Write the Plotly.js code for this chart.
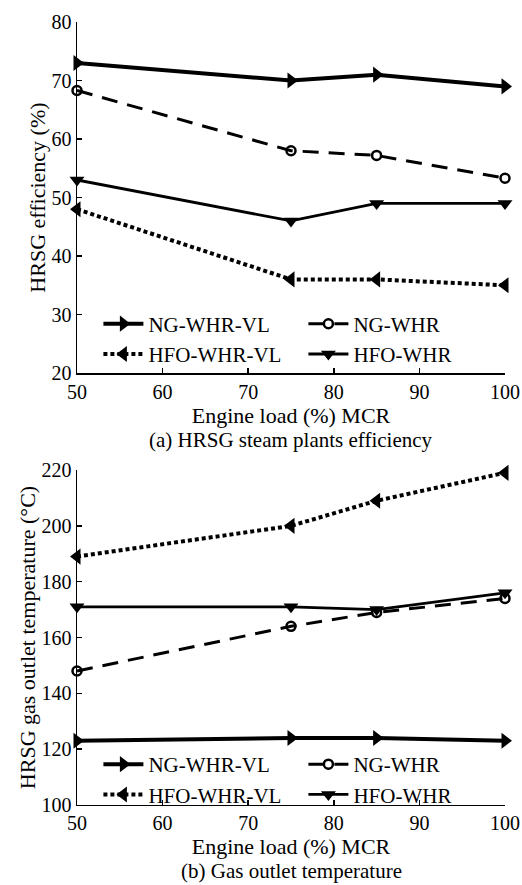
<!DOCTYPE html>
<html><head><meta charset="utf-8">
<script src="https://cdn.plot.ly/plotly-3.0.1.min.js"></script>
<style>html,body{margin:0;padding:0;background:#fff}</style>
</head><body><div id="c" style="width:522px;height:885px"></div>
<script>
const load = [50, 75, 85, 100];
const seriesNames = ["NG-WHR-VL", "NG-WHR", "HFO-WHR-VL", "HFO-WHR"];
// (a) HRSG efficiency (%)
const effNGWHRVL = [73, 70, 71, 69];
const effNGWHR = [68.3, 58, 57.2, 53.3];
const effHFOWHRVL = [48, 36, 36, 35];
const effHFOWHR = [53, 46, 49, 49];
// (b) gas outlet temperature (°C)
const tNGWHRVL = [123, 124, 124, 123];
const tNGWHR = [148, 164, 169, 174];
const tHFOWHRVL = [189, 200, 209, 219];
const tHFOWHR = [171, 171, 170, 176];

const FONT = "Liberation Serif, Times New Roman, serif";
const styles = {
  "NG-WHR-VL": {line:{color:"#000", width:4, dash:"solid"}, marker:{symbol:"triangle-right", size:14, color:"#000"}},
  "NG-WHR": {line:{color:"#000", width:3, dash:"16px,10px"}, marker:{symbol:"circle-open", size:9, color:"#000", line:{width:2.5, color:"#000"}}},
  "HFO-WHR-VL": {line:{color:"#000", width:4, dash:"4px,3px"}, marker:{symbol:"triangle-left", size:14, color:"#000"}},
  "HFO-WHR": {line:{color:"#000", width:2.8, dash:"solid"}, marker:{symbol:"triangle-down", size:13, color:"#000"}}
};
function tr(name, y, xa, ya, leg){
  return Object.assign({type:"scatter", mode:"lines+markers", x:load, y:y, name:name,
    xaxis:xa, yaxis:ya, legend:leg, cliponaxis:false}, JSON.parse(JSON.stringify(styles[name])));
}
const data = [
  tr(seriesNames[0], effNGWHRVL, "x", "y", "legend"),
  tr(seriesNames[1], effNGWHR, "x", "y", "legend"),
  tr(seriesNames[2], effHFOWHRVL, "x", "y", "legend"),
  tr(seriesNames[3], effHFOWHR, "x", "y", "legend"),
  tr(seriesNames[0], tNGWHRVL, "x2", "y2", "legend2"),
  tr(seriesNames[1], tNGWHR, "x2", "y2", "legend2"),
  tr(seriesNames[2], tHFOWHRVL, "x2", "y2", "legend2"),
  tr(seriesNames[3], tHFOWHR, "x2", "y2", "legend2")
];
const TF = {family:FONT, size:22, color:"#000"};
const axCommon = {showline:true, linecolor:"#000", linewidth:1.5, ticks:"inside", ticklen:5, tickwidth:1.5,
  tickcolor:"#000", showgrid:false, zeroline:false, mirror:false, tickfont:{family:FONT, size:20, color:"#000"}};
const legCommon = {orientation:"h", entrywidth:150, entrywidthmode:"pixels", xanchor:"left", yanchor:"top",
  font:{family:FONT, size:21, color:"#000"}, bgcolor:"rgba(0,0,0,0)", itemwidth:40, tracegroupgap:0};
const layout = {
  width:522, height:885, margin:{l:77, r:17, t:0, b:0},
  paper_bgcolor:"#fff", plot_bgcolor:"#fff", showlegend:true,
  font:{family:FONT, color:"#000"},
  xaxis: Object.assign({}, axCommon, {range:[50,100], dtick:10, anchor:"y", domain:[0,1],
    title:{text:"Engine load (%) MCR", font:TF, standoff:0}}),
  yaxis: Object.assign({}, axCommon, {range:[20,80], dtick:10, domain:[0.5785,0.9751], anchor:"x",
    title:{text:"HRSG efficiency (%)", font:TF, standoff:0}}),
  xaxis2: Object.assign({}, axCommon, {range:[50,100], dtick:10, anchor:"y2", domain:[0,1],
    title:{text:"Engine load (%) MCR", font:TF, standoff:0}}),
  yaxis2: Object.assign({}, axCommon, {range:[100,220], dtick:20, domain:[0.0904,0.4689], anchor:"x2",
    title:{text:"HRSG gas outlet temperature (°C)", font:TF, standoff:0}}),
  legend: Object.assign({}, legCommon, {x:0.05, y:0.657}),
  legend2: Object.assign({}, legCommon, {x:0.05, y:0.1593}),
  annotations:[
    {text:"(a) HRSG steam plants efficiency", xref:"paper", yref:"paper", x:0.5, y:(885-440)/885, xanchor:"center", yanchor:"middle", showarrow:false, font:{family:FONT, size:21, color:"#000"}},
    {text:"(b) Gas outlet temperature", xref:"paper", yref:"paper", x:0.5, y:(885-871)/885, xanchor:"center", yanchor:"middle", showarrow:false, font:{family:FONT, size:21, color:"#000"}}
  ]
};
Plotly.newPlot("c", data, layout, {displayModeBar:false, staticPlot:true});
</script></body></html>
